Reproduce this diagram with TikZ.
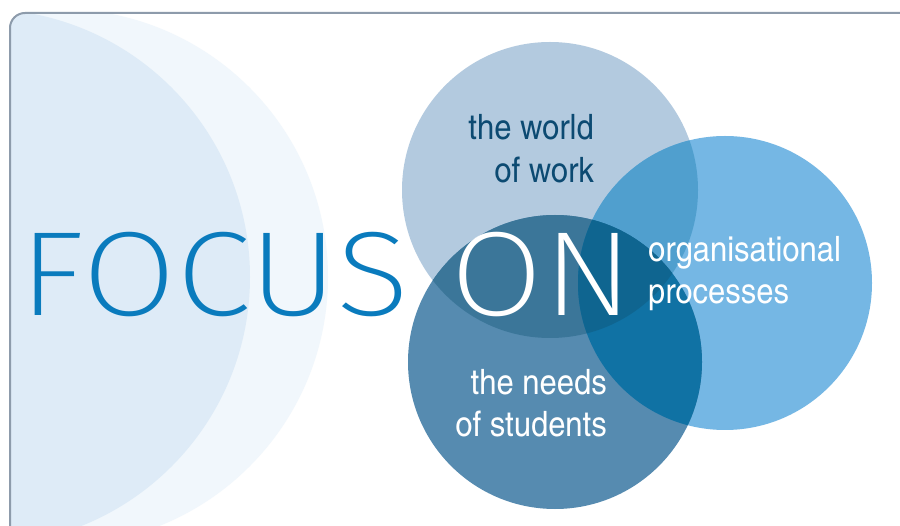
\documentclass[tikz,border=0pt]{standalone}
\usepackage{fontspec}
\IfFontExistsTF{Fira Sans ExtraLight}{\newfontfamily\thinfont{Fira Sans ExtraLight}}{%
  \newfontfamily\thinfont{Fira Sans Light}}
\newfontfamily\condfont{texgyreheroscn-regular.otf}
\definecolor{paleout}{HTML}{F1F7FC}
\definecolor{palein}{HTML}{DEEBF7}
\definecolor{bordergray}{HTML}{8D9BAB}
\definecolor{focusblue}{HTML}{0A7BBD}
\definecolor{ctop}{HTML}{B3CADF}
\definecolor{cright}{HTML}{75B7E4}
\definecolor{cbottom}{HTML}{568BB0}
\definecolor{cab}{HTML}{509FCE}
\definecolor{cac}{HTML}{3B7699}
\definecolor{cbc}{HTML}{1072A4}
\definecolor{cabc}{HTML}{0F6590}
\definecolor{navy}{HTML}{0C4A72}
\newcommand\wide[1]{\scalebox{1.08}[1]{#1}}
\newcommand\widebig[1]{\scalebox{1.12}[1]{#1}}
\newcommand\widefocus[1]{\scalebox{1.135}[1]{#1}}
\begin{document}
\begin{tikzpicture}[x=1pt,y=-1pt,
  lab/.style={inner sep=0pt, font=\condfont\fontsize{35}{42}\selectfont},
  big/.style={inner sep=0pt, font=\thinfont\fontsize{120}{120}\selectfont}]
\useasboundingbox (0,0) rectangle (900,526);
\fill[white] (0,0) rectangle (900,526);
\begin{scope}
  \clip[rounded corners=15pt] (10,13) rectangle (915,545);
  \fill[paleout] (60,277) circle (268);
  \fill[palein] (-18,277) circle (268);
\end{scope}
\draw[bordergray, line width=2pt, rounded corners=15pt] (10,13) rectangle (915,545);
\node[big, anchor=base west, text=focusblue] (focus) at (19,316) {\widefocus{FOCUS}};
% Venn circles
\coordinate (A) at (550,190);
\coordinate (B) at (725,283);
\coordinate (C) at (555,362);
\fill[ctop] (A) circle (148);
\fill[cright] (B) circle (147);
\fill[cbottom] (C) circle (147);
\begin{scope}
  \clip (A) circle (148);
  \fill[cab] (B) circle (147);
  \fill[cac] (C) circle (147);
\end{scope}
\begin{scope}
  \clip (B) circle (147);
  \fill[cbc] (C) circle (147);
  \clip (C) circle (147);
  \fill[cabc] (A) circle (148);
\end{scope}
\node[big, anchor=base west, text=white] (on) at (450,316) {\widebig{ON}};
\node[lab, anchor=base east, text=navy] (w1) at (594,140) {\wide{the world}};
\node[lab, anchor=base east, text=navy] (w2) at (594,183) {\wide{of work}};
\node[lab, anchor=base west, text=white] (o1) at (648,262) {\wide{organisational}};
\node[lab, anchor=base west, text=white] (o2) at (648,304) {\wide{processes}};
\node[lab, anchor=base east, text=white] (s1) at (607,395) {\wide{the needs}};
\node[lab, anchor=base east, text=white] (s2) at (607,437) {\wide{of students}};
\end{tikzpicture}
\end{document}
